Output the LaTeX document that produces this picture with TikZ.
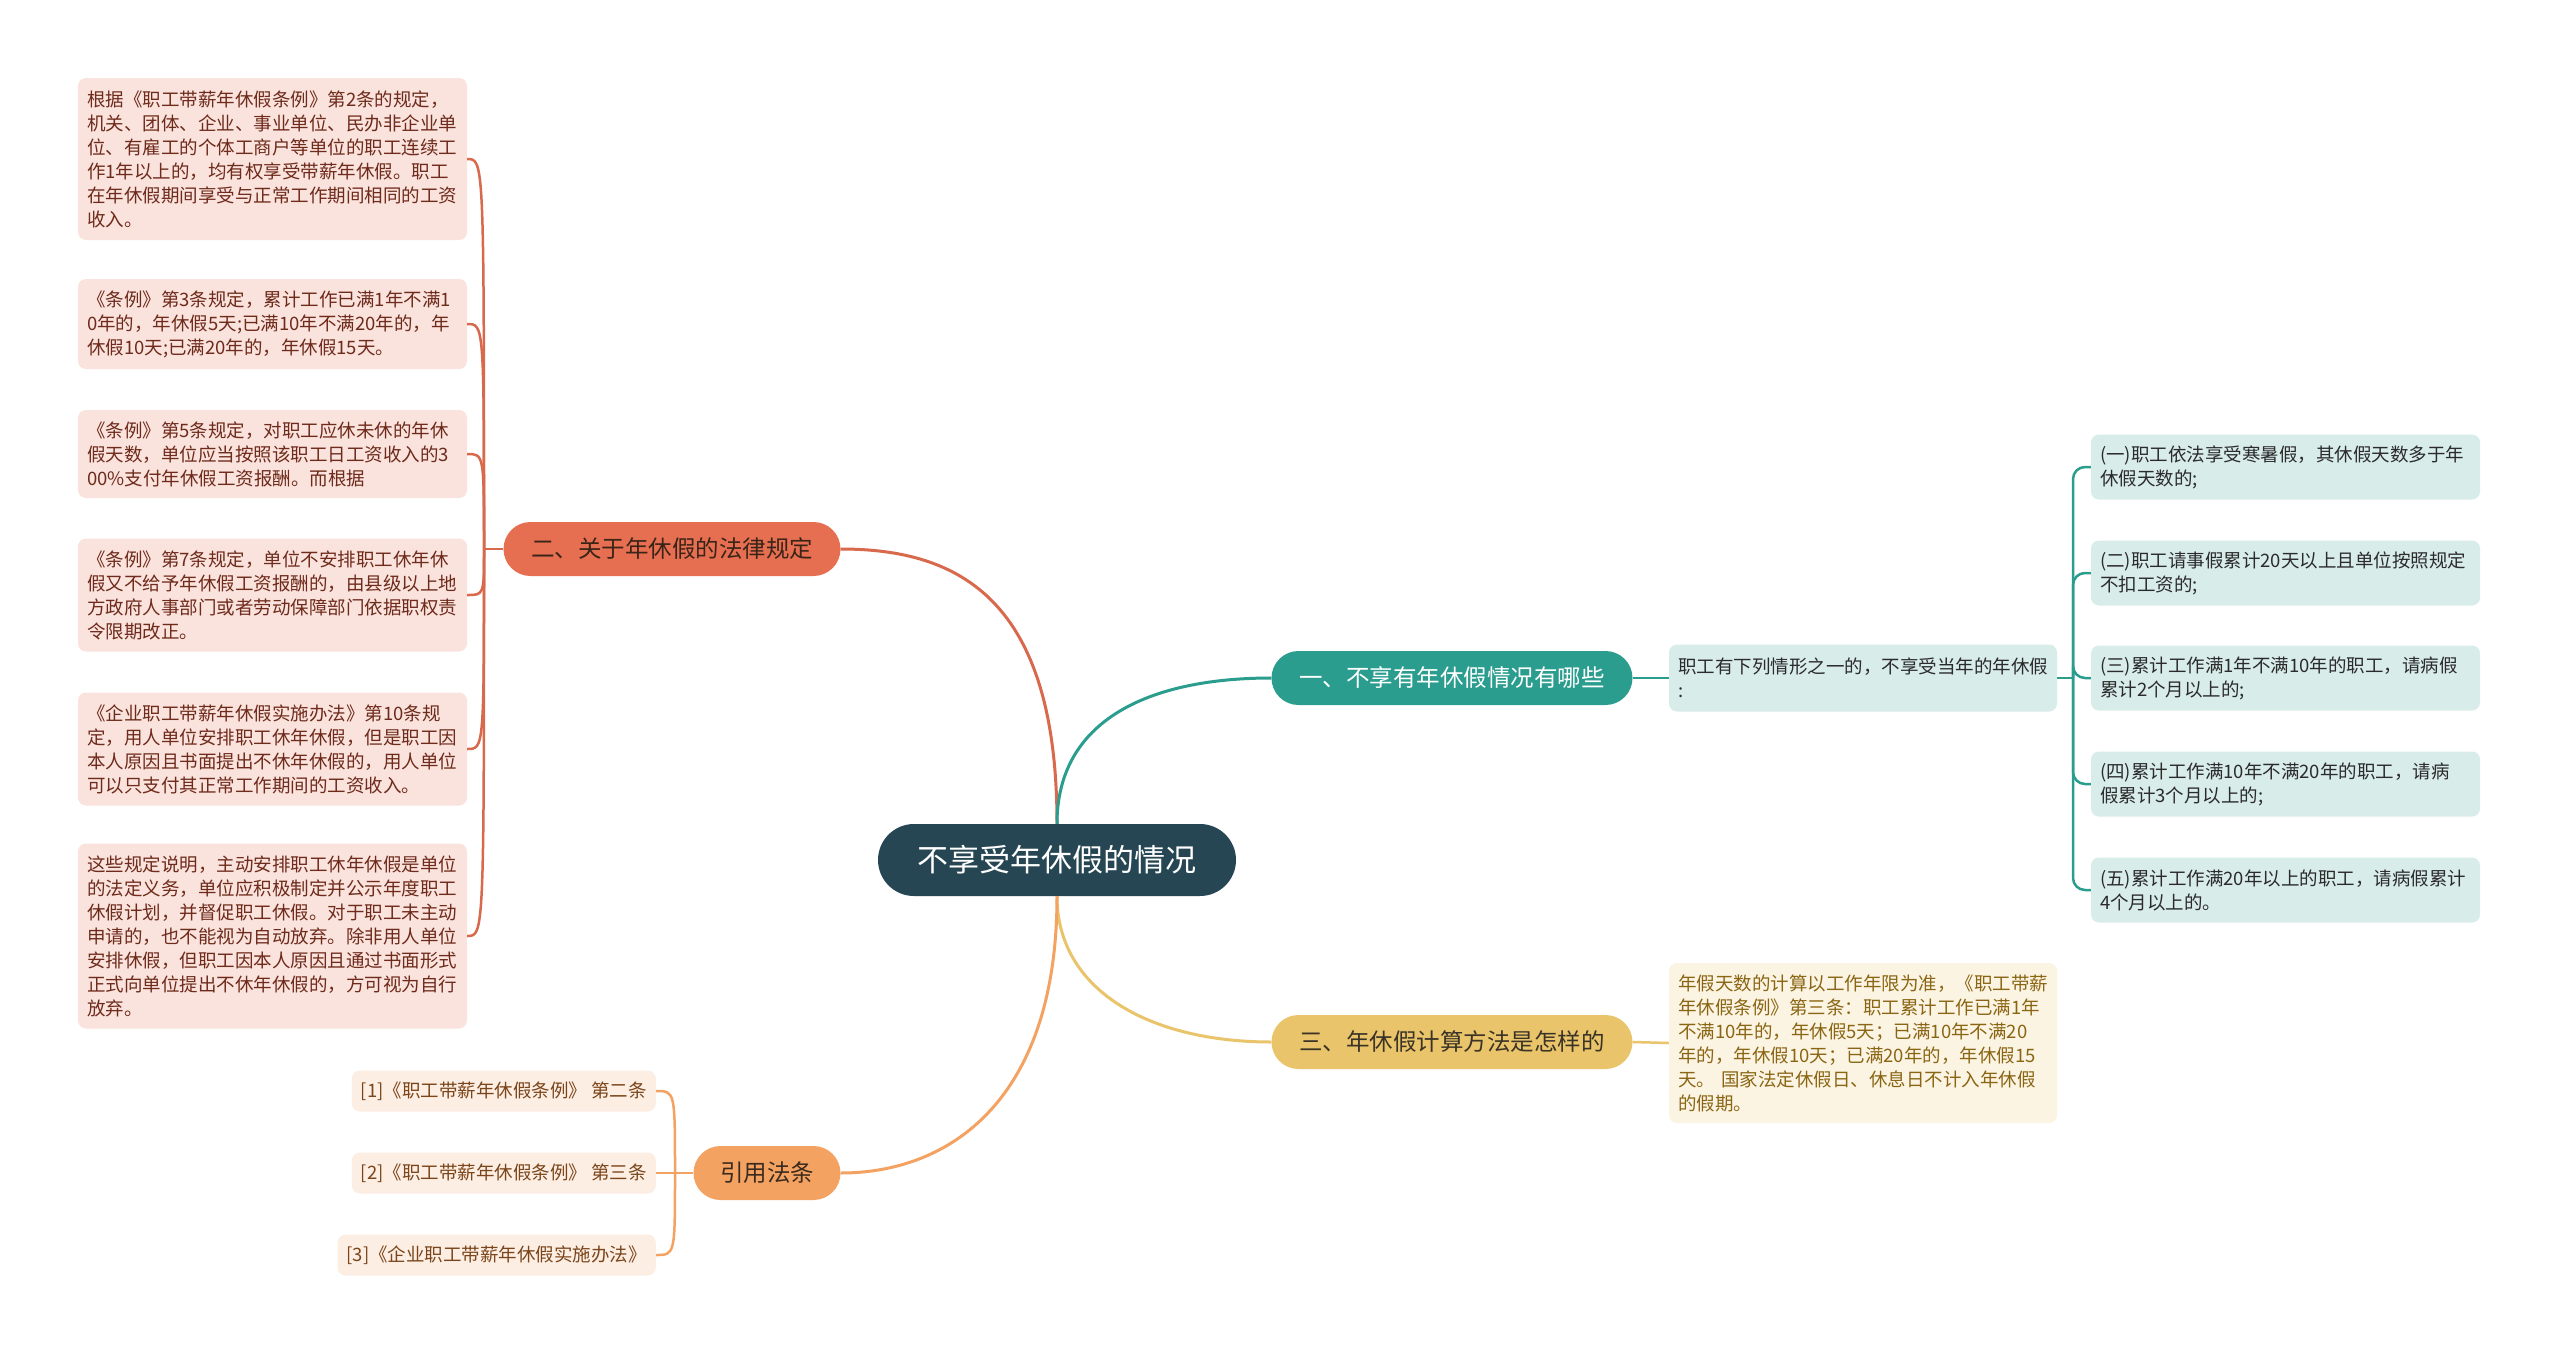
\documentclass[tikz,border=0pt]{standalone}
\usepackage{fontspec}
\setmainfont{Noto Sans CJK SC}
\definecolor{rootc}{HTML}{264653}
\definecolor{tealc}{HTML}{2A9D8F}
\definecolor{tealleaf}{HTML}{D8ECE9}
\definecolor{tealtext}{HTML}{2B2B2B}
\definecolor{redc}{HTML}{E76F51}
\definecolor{redline}{HTML}{D8694C}
\definecolor{redleaf}{HTML}{FAE3DD}
\definecolor{redtext}{HTML}{6E2A1B}
\definecolor{redbtext}{HTML}{3A2418}
\definecolor{yellowc}{HTML}{E9C46A}
\definecolor{yellowleaf}{HTML}{FCF4E2}
\definecolor{yellowtext}{HTML}{8A6614}
\definecolor{ybtext}{HTML}{3A3326}
\definecolor{orangec}{HTML}{F4A261}
\definecolor{orangeleaf}{HTML}{FDEEE3}
\definecolor{orangetext}{HTML}{7A451A}
\definecolor{obtext}{HTML}{3B2B1E}
\newcommand{\leaffont}{\fontsize{18.5}{24}\selectfont}
\newcommand{\branchfont}{\fontsize{23.5}{28}\selectfont}
\newcommand{\rootfont}{\fontsize{31}{36}\selectfont}
\tikzset{
  leafbox/.style={rounded corners=8pt, inner xsep=9pt, inner ysep=0pt, align=left, font=\leaffont, anchor=center},
  leafL/.style={leafbox, fill=redleaf, text=redtext, text width=371pt},
  leafT/.style={leafbox, fill=tealleaf, text=tealtext, text width=371pt, minimum height=65pt},
  leafY/.style={leafbox, fill=yellowleaf, text=yellowtext, text width=370pt},
  leafO/.style={leafbox, fill=orangeleaf, text=orangetext, minimum height=41pt, anchor=east},
  branchbox/.style={rounded corners=27pt, minimum height=54pt, inner sep=0pt, font=\branchfont, anchor=center},
  rootbox/.style={rounded corners=36pt, minimum height=72pt, minimum width=358pt, inner sep=0pt, font=\rootfont, fill=rootc, text=white},
  mainline/.style={line width=3pt},
  subline/.style={line width=2.5pt},
}
\begin{document}
\begin{tikzpicture}[x=1pt,y=-1pt]
\useasboundingbox[fill=white] (0,0) rectangle (2560,1355);

% root
\node[rootbox] (root) at (1057,860) {不享受年休假的情况};

% branches
\node[branchbox, fill=tealc, text=white, minimum width=361pt] (tb) at (1452,678) {一、不享有年休假情况有哪些};
\node[branchbox, fill=redc, text=redbtext, minimum width=337pt] (rb) at (672,549) {二、关于年休假的法律规定};
\node[branchbox, fill=yellowc, text=ybtext, minimum width=361pt] (yb) at (1452,1042) {三、年休假计算方法是怎样的};
\node[branchbox, fill=orangec, text=obtext, minimum width=147pt] (ob) at (767,1173) {引用法条};

% root connectors
\draw[mainline, redline] (root.north) .. controls +(0,-224) and +(119,0) .. (rb.east);
\draw[mainline, tealc] (root.north) .. controls +(0,-104) and +(-122,0) .. (tb.west);
\draw[mainline, yellowc] (root.south) .. controls +(0,94) and +(-122,0) .. (yb.west);
\draw[mainline, orangec] (root.south) .. controls +(0,204) and +(109,0) .. (ob.east);

% teal group
\node[leafbox, fill=tealleaf, text=tealtext, text width=370pt, minimum height=67pt] (tc) at (1863,678) {职工有下列情形之一的，不享受当年的年休假\\:};
\node[leafT] (t1) at (2285.5,467) {(一)职工依法享受寒暑假，其休假天数多于年\\休假天数的;};
\node[leafT] (t2) at (2285.5,573) {(二)职工请事假累计20天以上且单位按照规定\\不扣工资的;};
\node[leafT] (t3) at (2285.5,678) {(三)累计工作满1年不满10年的职工，请病假\\累计2个月以上的;};
\node[leafT] (t4) at (2285.5,784) {(四)累计工作满10年不满20年的职工，请病\\假累计3个月以上的;};
\node[leafT] (t5) at (2285.5,890) {(五)累计工作满20年以上的职工，请病假累计\\4个月以上的。};
\coordinate (tp) at (2073,678);
\draw[subline, tealc] (tb.east) -- (tc.west);
\draw[subline, tealc] (tc.east) -- (tp);
\foreach \n in {t1,t2,t3,t4,t5}{
  \draw[subline, tealc, rounded corners=12pt] (tp) |- (\n.west);
}

% red group
\node[leafL, minimum height=162pt] (l1) at (272.5,159) {根据《职工带薪年休假条例》第2条的规定，\\机关、团体、企业、事业单位、民办非企业单\\位、有雇工的个体工商户等单位的职工连续工\\作1年以上的，均有权享受带薪年休假。职工\\在年休假期间享受与正常工作期间相同的工资\\收入。};
\node[leafL, minimum height=90pt] (l2) at (272.5,324) {《条例》第3条规定，累计工作已满1年不满1\\0年的，年休假5天;已满10年不满20年的，年\\休假10天;已满20年的，年休假15天。};
\node[leafL, minimum height=88pt] (l3) at (272.5,454) {《条例》第5条规定，对职工应休未休的年休\\假天数，单位应当按照该职工日工资收入的3\\00\%支付年休假工资报酬。而根据};
\node[leafL, minimum height=113pt] (l4) at (272.5,595) {《条例》第7条规定，单位不安排职工休年休\\假又不给予年休假工资报酬的，由县级以上地\\方政府人事部门或者劳动保障部门依据职权责\\令限期改正。};
\node[leafL, minimum height=113pt] (l5) at (272.5,749) {《企业职工带薪年休假实施办法》第10条规\\定，用人单位安排职工休年休假，但是职工因\\本人原因且书面提出不休年休假的，用人单位\\可以只支付其正常工作期间的工资收入。};
\node[leafL, minimum height=185pt] (l6) at (272.5,936) {这些规定说明，主动安排职工休年休假是单位\\的法定义务，单位应积极制定并公示年度职工\\休假计划，并督促职工休假。对于职工未主动\\申请的，也不能视为自动放弃。除非用人单位\\安排休假，但职工因本人原因且通过书面形式\\正式向单位提出不休年休假的，方可视为自行\\放弃。};
\coordinate (rp) at (484,549);
\draw[subline, redline] (rb.west) -- (rp);
\foreach \n in {l1,l2,l3,l4,l5,l6}{
  \draw[subline, redline] (rp) .. controls (rp |- \n.east) and (rp |- \n.east) .. (\n.east);
}

% yellow group
\node[leafY, minimum height=160pt] (yc) at (1863,1043) {年假天数的计算以工作年限为准，《职工带薪\\年休假条例》第三条：职工累计工作已满1年\\不满10年的，年休假5天；已满10年不满20\\年的，年休假10天；已满20年的，年休假15\\天。 国家法定休假日、休息日不计入年休假\\的假期。};
\draw[subline, yellowc] (yb.east) -- (yc.west);

% orange group
\node[leafO] (r1) at (656,1091) {[1]《职工带薪年休假条例》 第二条};
\node[leafO] (r2) at (656,1173) {[2]《职工带薪年休假条例》 第三条};
\node[leafO] (r3) at (656,1255) {[3]《企业职工带薪年休假实施办法》};
\coordinate (op) at (675,1173);
\draw[subline, orangec] (ob.west) -- (op);
\foreach \n in {r1,r2,r3}{
  \draw[subline, orangec] (op) .. controls (op |- \n.east) and (op |- \n.east) .. (\n.east);
}
\end{tikzpicture}
\end{document}
